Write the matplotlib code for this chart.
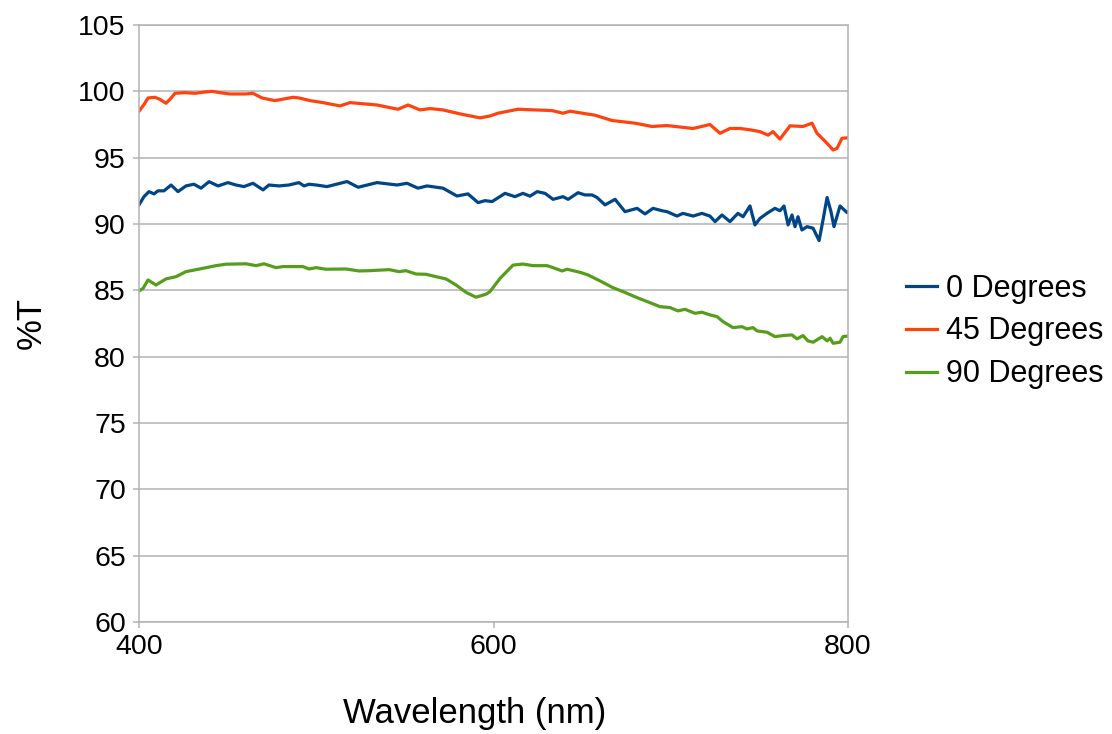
import matplotlib
matplotlib.use("Agg")
import matplotlib.pyplot as plt

plt.rcParams['font.family'] = ['Liberation Sans', 'DejaVu Sans']

# Transmission spectra (%T) at three polariser angles
wl_0 = [400.0, 402.8, 405.6, 408.5, 410.7, 414.1, 418.1, 422.0, 426.5, 431.0, 435.0, 439.5,
        444.6, 450.2, 454.7, 459.2, 464.3, 470.0, 473.3, 479.0, 484.6, 490.3, 493.1, 495.9,
        499.9, 506.1, 517.4, 523.6, 534.3, 545.6, 551.2, 557.4, 562.5, 571.5, 579.4, 585.6,
        591.3, 595.2, 599.2, 606.5, 612.1, 616.6, 620.6, 624.6, 629.1, 633.6, 639.2, 642.1,
        647.7, 651.6, 655.6, 658.4, 662.9, 668.6, 674.2, 681.0, 685.5, 690.0, 695.1, 697.9,
        703.5, 706.9, 712.6, 717.6, 722.1, 725.0, 728.9, 733.4, 737.9, 740.8, 744.7, 747.5,
        750.4, 754.9, 758.8, 761.6, 763.9, 766.2, 768.4, 770.1, 771.8, 774.0, 776.9, 780.3,
        783.7, 785.9, 788.2, 790.4, 792.1, 795.5, 799.5, 800.0]
t_0 = [91.44, 92.06, 92.44, 92.27, 92.5, 92.5, 92.94, 92.44, 92.87, 93.0, 92.7, 93.19,
       92.87, 93.12, 92.94, 92.82, 93.07, 92.57, 92.94, 92.87, 92.94, 93.12, 92.87, 93.0,
       92.94, 92.82, 93.2, 92.77, 93.12, 92.94, 93.07, 92.7, 92.87, 92.7, 92.11, 92.27,
       91.61, 91.76, 91.69, 92.31, 92.06, 92.31, 92.1, 92.44, 92.31, 91.86, 92.06, 91.86,
       92.36, 92.19, 92.19, 92.0, 91.44, 91.86, 90.93, 91.18, 90.76, 91.18, 91.0, 90.93,
       90.6, 90.8, 90.6, 90.8, 90.6, 90.18, 90.68, 90.18, 90.8, 90.55, 91.36, 89.93,
       90.43, 90.86, 91.18, 91.0, 91.36, 89.93, 90.68, 89.8, 90.55, 89.55, 89.8, 89.68,
       88.75, 90.3, 92.0, 90.93, 89.8, 91.36, 90.86, 90.9]

wl_45 = [400.0, 402.8, 405.1, 409.0, 411.8, 415.2, 417.5, 420.3, 426.0, 431.6, 437.2, 441.2,
         445.7, 451.3, 459.8, 464.3, 469.4, 476.7, 486.9, 490.3, 496.5, 503.8, 513.4, 519.0,
         534.3, 540.5, 546.1, 551.8, 558.5, 564.2, 571.5, 581.1, 592.4, 598.0, 602.5, 613.8,
         623.4, 633.0, 639.2, 643.2, 657.3, 666.9, 679.8, 689.4, 697.9, 712.6, 722.1, 727.8,
         733.4, 739.1, 744.7, 750.4, 754.9, 757.7, 761.6, 767.3, 774.6, 779.7, 782.5, 785.4,
         788.2, 791.6, 793.8, 796.6, 800.0]
t_45 = [98.5, 99.0, 99.5, 99.55, 99.4, 99.1, 99.4, 99.85, 99.9, 99.85, 99.95, 100.0,
        99.9, 99.8, 99.8, 99.85, 99.5, 99.3, 99.55, 99.5, 99.3, 99.15, 98.9, 99.15,
        98.97, 98.8, 98.65, 98.97, 98.6, 98.7, 98.6, 98.3, 98.0, 98.14, 98.35, 98.65,
        98.6, 98.55, 98.35, 98.5, 98.2, 97.8, 97.6, 97.35, 97.42, 97.2, 97.5, 96.84,
        97.2, 97.2, 97.1, 96.96, 96.7, 96.96, 96.4, 97.4, 97.35, 97.6, 96.84, 96.46,
        96.08, 95.58, 95.7, 96.46, 96.5]

wl_90 = [400.0, 402.3, 405.1, 409.6, 415.2, 420.9, 426.5, 436.1, 443.4, 449.1, 460.4, 466.0,
         470.5, 477.3, 481.2, 492.5, 495.9, 499.9, 505.5, 516.8, 524.1, 529.8, 541.1, 546.7,
         550.6, 556.3, 561.9, 567.6, 573.2, 578.9, 584.5, 590.1, 595.8, 598.0, 603.7, 611.0,
         616.6, 622.3, 630.2, 633.6, 638.7, 641.5, 648.8, 653.3, 660.1, 667.4, 673.1, 681.0,
         688.3, 693.9, 699.6, 704.1, 708.0, 713.7, 717.6, 722.1, 726.1, 729.5, 735.1, 740.2,
         743.0, 746.4, 748.7, 754.3, 758.8, 763.3, 768.4, 771.2, 774.6, 777.4, 780.3, 785.4,
         788.2, 789.9, 791.6, 795.5, 797.2, 800.0]
t_90 = [84.95, 85.15, 85.78, 85.4, 85.86, 86.03, 86.41, 86.66, 86.86, 86.97, 87.0, 86.86,
        87.0, 86.71, 86.79, 86.79, 86.61, 86.71, 86.59, 86.61, 86.46, 86.48, 86.56, 86.41,
        86.48, 86.23, 86.21, 86.03, 85.86, 85.4, 84.85, 84.48, 84.71, 84.9, 85.9, 86.9,
        86.98, 86.86, 86.86, 86.71, 86.46, 86.59, 86.36, 86.16, 85.71, 85.2, 84.9, 84.45,
        84.07, 83.77, 83.7, 83.45, 83.57, 83.27, 83.35, 83.15, 83.02, 82.64, 82.19, 82.26,
        82.09, 82.19, 81.94, 81.84, 81.51, 81.59, 81.64, 81.34, 81.59, 81.19, 81.09, 81.51,
        81.19, 81.39, 81.01, 81.09, 81.51, 81.56]

series_labels = ["0 Degrees", "45 Degrees", "90 Degrees"]
series_colors = ["#004586", "#ff420e", "#579d1c"]

x_ticks = [400, 600, 800]
y_ticks = list(range(60, 106, 5))

fig = plt.figure(figsize=(11.12, 7.34), dpi=100)
ax = fig.add_axes([139 / 1112, 1 - 622 / 734, (848 - 139) / 1112, (622 - 25) / 734])

for wl, t, lab, col in zip([wl_0, wl_45, wl_90], [t_0, t_45, t_90], series_labels, series_colors):
    ax.plot(wl, t, color=col, lw=2.3, label=lab, solid_joinstyle='round')

grid_col = "#b3b3b3"
ax.set_xlim(400, 800)
ax.set_ylim(60, 105)
ax.set_xticks(x_ticks)
ax.set_yticks(y_ticks)
ax.yaxis.grid(True, color=grid_col, lw=1.1)
ax.set_axisbelow(True)
for s in ax.spines.values():
    s.set_color(grid_col)
    s.set_linewidth(1.1)
ax.tick_params(axis='both', colors=grid_col, length=4.5, width=1.1, labelsize=20.5,
               labelcolor='black')
ax.tick_params(axis='y', pad=5)
ax.tick_params(axis='x', pad=4)

fig.text(475 / 1112, 1 - 713 / 734, "Wavelength (nm)", fontsize=25, ha='center', va='center')
fig.text(31 / 1112, 1 - 323 / 734, "%T", fontsize=25, ha='center', va='center', rotation=90)

fig.legend(loc='center left', bbox_to_anchor=(906 / 1112, 1 - 331.5 / 734), frameon=False,
           fontsize=22, handlelength=1.0, handletextpad=0.3, labelspacing=0.42,
           borderpad=0, borderaxespad=0)

fig.savefig("out.png", dpi=100)
